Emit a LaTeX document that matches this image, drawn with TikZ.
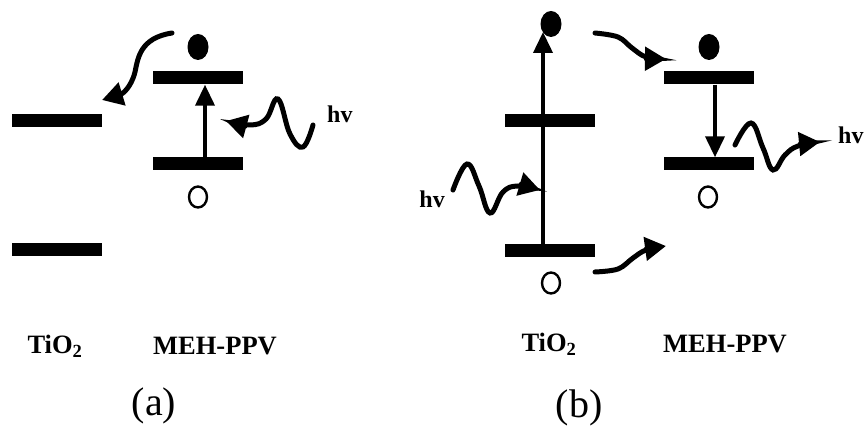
\documentclass[tikz,border=0pt]{standalone}
\usepackage{fontspec}
\setmainfont{Liberation Serif}
\usetikzlibrary{arrows.meta,shapes.geometric}
\begin{document}
\begin{tikzpicture}[x=1pt,y=-1pt,
  bar/.style={fill=black,inner sep=0pt,minimum width=90pt,minimum height=13pt},
  elec/.style={fill=black,ellipse,inner sep=0pt,minimum width=21pt,minimum height=26pt},
  hole/.style={draw=black,line width=2.4pt,ellipse,inner sep=0pt,minimum width=18pt,minimum height=21pt},
  varrow/.style={line width=3.8pt,-{Triangle[length=21pt,width=19pt]}},
  wave/.style={line width=5pt,line cap=round,-{Triangle[length=21pt,width=23pt]}},
  lbl/.style={font=\fontsize{26.5}{28}\selectfont\bfseries,inner sep=0pt},
  hvl/.style={font=\fontsize{24}{26}\selectfont\bfseries,inner sep=0pt},
  captxt/.style={font=\fontsize{40}{42}\selectfont,inner sep=0pt}]
\useasboundingbox (0,0) rectangle (864,430);
% ---------- panel (a) ----------
\node[bar] (aTup) at (57,121) {};
\node[bar] (aTlo) at (57,250) {};
\node[bar] (aMup) at (198,78) {};
\node[bar] (aMlo) at (198,164) {};
\node[elec] (aE) at (198,47) {};
\node[hole] (aH) at (198,197) {};
\draw[varrow] ([xshift=7pt]aMlo.center) -- ([xshift=7pt]aMup.south);
\coordinate (aTs) at (172,33);
\coordinate (aTe) at (102,100);
\draw[wave] (aTs) .. controls (140,38) and (138,58) .. (135,72) .. controls (131,88) and (122,94) .. (aTe);
\coordinate (aWs) at (313,125);
\coordinate (aWe) at (226,121);
\draw[wave] plot[smooth,tension=0.7] coordinates {(aWs) (303,147) (290,134) (278,99) (266,119) (250,125) (aWe)};
\node[hvl,anchor=west] (aHv) at (327,114) {hv};
\node[lbl] (aTiO) at (55,346) {TiO\textsubscript{2}};
\node[lbl] (aMEH) at (215,346) {MEH-PPV};
\node[captxt] (aCap) at (154,406) {(a)};
% ---------- panel (b) ----------
\node[bar] (bTup) at (550,121) {};
\node[bar] (bTlo) at (550,251) {};
\node[elec] (bE) at (551,24) {};
\node[hole] (bH) at (551,283) {};
\draw[varrow] ([xshift=-7pt]bTlo.center) -- (543,32);
\node[bar] (bMup) at (709,78) {};
\node[bar] (bMlo) at (709,164) {};
\node[elec] (bE2) at (709,47) {};
\node[hole] (bH2) at (708,197) {};
\draw[varrow] ([xshift=6pt]bMup.south) -- ([xshift=6pt]bMlo.north);
\coordinate (bWs) at (453,190);
\coordinate (bWe) at (540,190);
\draw[wave] plot[smooth,tension=0.7] coordinates {(bWs) (467,164) (479,186) (490,213) (503,192) (518,186) (bWe)};
\node[hvl,anchor=east] (bHv) at (445,199) {hv};
\coordinate (bUs) at (595,33);
\coordinate (bUe) at (666,59);
\draw[wave] plot[smooth,tension=0.6] coordinates {(bUs) (618,37) (632,48) (646,57) (bUe)};
\coordinate (bLs) at (595,272);
\coordinate (bLe) at (666,246);
\draw[wave] plot[smooth,tension=0.6] coordinates {(bLs) (618,269) (633,258) (646,250) (bLe)};
\coordinate (bEs) at (735,145);
\coordinate (bEe) at (820,142);
\draw[wave] plot[smooth,tension=0.7] coordinates {(bEs) (751,123) (763,148) (773,170) (785,155) (798,146) (bEe)};
\node[hvl,anchor=west] (bHv2) at (838,135) {hv};
\node[lbl] (bTiO) at (549,344) {TiO\textsubscript{2}};
\node[lbl] (bMEH) at (725,344) {MEH-PPV};
\node[captxt] (bCap) at (579,408) {(b)};
\end{tikzpicture}
\end{document}
